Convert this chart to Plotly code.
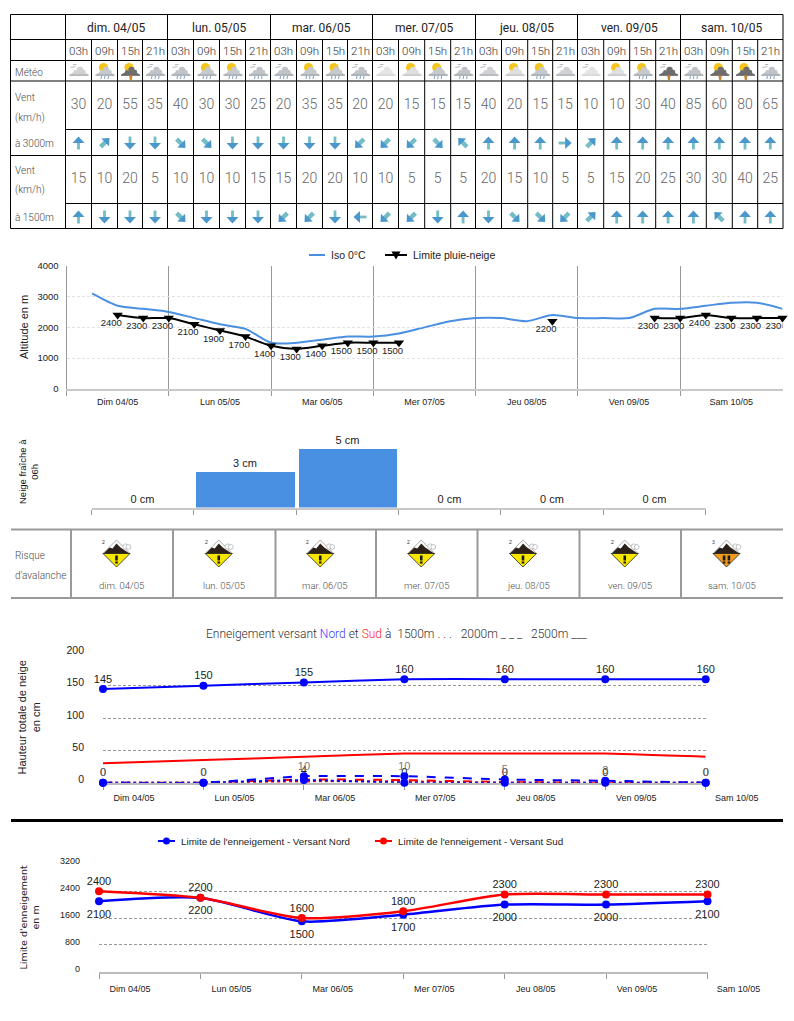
import math
import plotly.graph_objects as go

W, H = 794, 1021

# ---------- data ----------
days_table = ["dim. 04/05", "lun. 05/05", "mar. 06/05", "mer. 07/05", "jeu. 08/05", "ven. 09/05", "sam. 10/05"]
days_axis = ["Dim 04/05", "Lun 05/05", "Mar 06/05", "Mer 07/05", "Jeu 08/05", "Ven 09/05", "Sam 10/05"]
hours = ["03h", "09h", "15h", "21h"]
meteo = ["c", "sr", "st", "r", "r", "sr", "sr", "r", "r", "sr", "sr", "r", "l", "s", "sr", "r",
         "c", "s", "sr", "c", "l", "s", "sr", "dt", "r", "st", "st", "r"]
wind_3000 = [30, 20, 55, 35, 40, 30, 30, 25, 20, 35, 35, 20, 20, 15, 15, 15, 40, 20, 15, 15, 10, 10, 30, 40, 85, 60, 80, 65]
dir_3000 = [0, 45, 180, 180, 135, 135, 180, 180, 180, 180, 180, 225, 225, 225, 135, 315,
            0, 0, 0, 90, 45, 0, 0, 0, 0, 0, 0, 0]
wind_1500 = [15, 10, 20, 5, 10, 10, 10, 15, 15, 20, 20, 10, 10, 5, 5, 5, 20, 15, 10, 5, 5, 15, 20, 25, 30, 30, 40, 25]
dir_1500 = [0, 180, 180, 180, 135, 180, 180, 180, 225, 225, 180, 270, 225, 225, 180, 0,
            180, 135, 135, 225, 45, 0, 0, 0, 0, 315, 0, 0]

slots = list(range(1, 29))
iso_0 = [3100, 2700, 2600, 2500, 2300, 2100, 1950, 1500, 1500, 1600, 1700, 1700, 1800, 2000,
         2200, 2300, 2300, 2200, 2400, 2300, 2300, 2300, 2600, 2600, 2700, 2800, 2800, 2600]
rain_snow = [None, 2400, 2300, 2300, 2100, 1900, 1700, 1400, 1300, 1400, 1500, 1500, 1500, None,
             None, None, None, None, 2200, None, None, None, 2300, 2300, 2400, 2300, 2300, 2300]

fresh_snow = [0, 3, 5, 0, 0, 0]
risk_levels = [2, 2, 2, 2, 2, 2, 3]

north_2500 = [145, 150, 155, 160, 160, 160, 160]
south_2500 = [30, 35, 40, 45, 45, 45, 40]
north_2000 = [0, 0, 10, 10, 5, 3, 0]
south_2000 = [0, 0, 5, 4, 1, 0, 0]
north_1500 = [0, 0, 4, 0, 0, 0, 0]
south_1500 = [0, 0, 2, 2, 0, 0, 0]

limit_north = [2100, 2200, 1500, 1700, 2000, 2000, 2100]
limit_south = [2400, 2200, 1600, 1800, 2300, 2300, 2300]

# ---------- page geometry (pixels) ----------
col_x = [65.5, 91.5, 117.5, 142.5, 167.5, 193.5, 219.5, 245.5, 270.5, 296.5, 322.5, 347.5, 372.5,
         398.5, 424.7, 450.7, 475.5, 501.5, 527.7, 552.7, 577.5, 603.7, 629.7, 655.7, 680.5, 706.3, 732.3, 757.7, 783]
row_y = [14.5, 39.5, 60.5, 81, 129.5, 155.5, 203.5, 228.5]
TBL_L = 10.5
risk_x = [71, 173, 275.5, 376, 477.5, 579.5, 681, 783]

ARIAL = "Liberation Sans, Arial, sans-serif"
ROBOTO = "Roboto, sans-serif"


def dom_x(a, b):
    return [a / W, b / W]


def dom_y(top, bottom):
    return [1 - bottom / H, 1 - top / H]


shapes, annots = [], []


def line(x0, y0, x1, y1, color="#000", width=1):
    shapes.append(dict(type="line", xref="x5", yref="y5", x0=x0, y0=y0, x1=x1, y1=y1,
                       line=dict(color=color, width=width)))


def poly(points, fill, lc=None, lw=0):
    d = "M " + " L ".join(f"{x:.2f} {y:.2f}" for x, y in points) + " Z"
    shapes.append(dict(type="path", xref="x5", yref="y5", path=d, fillcolor=fill,
                       line=dict(color=lc or fill, width=lw)))


def circle(cx, cy, r, fill, lc=None, lw=0):
    shapes.append(dict(type="circle", xref="x5", yref="y5", x0=cx - r, x1=cx + r, y0=cy - r, y1=cy + r,
                       fillcolor=fill, line=dict(color=lc or fill, width=lw)))


def text(x, y, s, size=10, color="#4a4a4a", font=ROBOTO, anchor="left", angle=0, weight=None):
    f = dict(size=size, color=color, family=font)
    if weight:
        f["weight"] = weight
    annots.append(dict(xref="x5", yref="y5", x=x, y=y, text=s, showarrow=False, xanchor=anchor, yanchor="middle",
                       textangle=angle, align="center", font=f))


# ---------- table grid ----------
for y in row_y:
    left = 65.5 if y in (129.5, 203.5) else TBL_L
    line(left, y, 783, y)
line(TBL_L, 14.5, TBL_L, 228.5)
for i, x in enumerate(col_x):
    top = 14.5 if i % 4 == 0 else 39.5
    line(x, top, x, 228.5)

for d, name in enumerate(days_table):
    text((col_x[d * 4] + col_x[d * 4 + 4]) / 2, 27.5, name, size=12, color="#222", anchor="center")
for i in range(28):
    text((col_x[i] + col_x[i + 1]) / 2, 50.5, hours[i % 4], size=11.5, color="#333", anchor="center", weight=300)
for y, s in [(72, "Météo"), (97.7, "Vent"), (118, "(km/h)"), (143, "à 3000m"), (170, "Vent"), (190, "(km/h)"), (217, "à 1500m")]:
    text(13, y, s, size=10, weight=300)


# ---------- wind arrows ----------
def rot(cx, cy, pts, deg):
    a = math.radians(deg)
    return [(cx + px * math.cos(a) - py * math.sin(a), cy + px * math.sin(a) + py * math.cos(a)) for px, py in pts]


def arrow(cx, cy, deg):
    if deg % 90:
        head = [(0, -7), (5.5, -1), (-5.5, -1)]
        shaft = [(-2.2, -1.5), (2.2, -1.5), (2.2, 5.5), (-2.2, 5.5)]
    else:
        head = [(0, -6.5), (6, 0), (-6, 0)]
        shaft = [(-1.4, -0.5), (1.4, -0.5), (1.4, 6.5), (-1.4, 6.5)]
    poly(rot(cx, cy, shaft, deg), "#74bcc6")
    poly(rot(cx, cy, head, deg), "#4a97cc")


for i in range(28):
    cx = (col_x[i] + col_x[i + 1]) / 2
    arrow(cx, 143, dir_3000[i])
    arrow(cx, 217, dir_1500[i])


# ---------- weather icons ----------
def icon(cx, cy, kind):
    sun = kind in ("s", "sr", "st")
    ticks = kind in ("c", "l", "r", "dt")
    dark = kind in ("st", "dt")
    if sun:
        circle(cx - 1, cy - 3, 4.6, "#f6c51d")
    if ticks:
        line(cx - 8, cy - 3, cx - 3, cy - 4, "#a4a9ae", 0.8)
        line(cx - 5.5, cy - 6, cx - 2, cy - 6, "#a4a9ae", 0.8)
    body = {"l": "#e4e5e7", "s": "#dedfe1", "c": "#cfd1d4", "sr": "#c6c9cd", "r": "#c0c4c9"}.get(kind, "#6e6e6e")
    base = {"l": "#c8cacc", "s": "#b4b7ba", "c": "#9a9ea3", "sr": "#8f959b", "r": "#8f959b"}.get(kind, "#444444")
    circle(cx + 1.5, cy - 0.5, 3.2, body)
    circle(cx + 5, cy + 1.5, 2.2, body)
    circle(cx - 3, cy + 1.5, 2, body)
    poly([(cx - 9, cy + 4.2), (cx - 4, cy + 1), (cx + 5, cy + 1), (cx + 10, cy + 4.2)], body)
    line(cx - 9, cy + 4.6, cx + 10, cy + 4.6, base, 1.2)
    if kind in ("sr", "r"):
        for dx in (-3, 0.5, 4):
            line(cx + dx, cy + 5.5, cx + dx - 0.5, cy + 8.5, "#7d9fc0", 1)
    if dark:
        poly([(cx - 1, cy + 5), (cx + 2.5, cy + 5), (cx + 1.7, cy + 10), (cx, cy + 10)], "#c9822a")


for i, kind in enumerate(meteo):
    icon((col_x[i] + col_x[i + 1]) / 2, 70.5, kind)

# ---------- avalanche band ----------
line(11, 529.5, 783, 529.5, "#999", 2)
line(11, 598, 783, 598, "#999", 2)
for x in risk_x[:-1]:
    line(x, 529.5, x, 598, "#999", 2)
text(13, 555, "Risque", size=10, weight=300)
text(13, 575, "d'avalanche", size=10, weight=300)


def avalanche(cx, level):
    cy, r = 553.5, 13.5
    fill = "#f6e600" if level < 3 else "#f09a1e"
    poly([(cx - r, cy), (cx, cy - r), (cx + r, cy)], "#ffffff", "#888888", 0.7)
    circle(cx + 9, cy - 7, 2.6, "#ffffff", "#aaaaaa", 0.7)
    circle(cx + 12, cy - 6.5, 2.4, "#ffffff", "#aaaaaa", 0.7)
    poly([(cx - r, cy), (cx, cy + r), (cx + r, cy)], fill, "#222", 0.8)
    poly([(cx - r + 0.5, cy), (cx - 7, cy - 6), (cx - 4, cy - 5), (cx, cy - 10), (cx + 4, cy - 6), (cx + 7, cy - 4), (cx + r - 0.5, cy)], "#2b211a")
    offs = (-2.4, 2.4) if level >= 3 else (0,)
    for o in offs:
        poly([(cx + o - 1.3, cy + 2), (cx + o + 1.3, cy + 2), (cx + o + 1.3, cy + 7), (cx + o - 1.3, cy + 7)], "#1a1a1a")
        poly([(cx + o - 1.3, cy + 8), (cx + o + 1.3, cy + 8), (cx + o + 1.3, cy + 10), (cx + o - 1.3, cy + 10)], "#1a1a1a")
    text(cx - 12.7, 542, str(level), size=5, color="#333", font=ARIAL, anchor="center")


for d, name in enumerate(days_table):
    cx = (risk_x[d] + risk_x[d + 1]) / 2 - 5.5
    avalanche(cx, risk_levels[d])
    text((risk_x[d] + risk_x[d + 1]) / 2 - 0.5, 585, name, size=9.5, anchor="center", weight=300)

# black divider
line(11, 820.5, 783, 820.5, "#000", 3)

# ---------- axis titles and heading ----------
text(24, 327, "Altitude en m", size=11, color="#222", font=ARIAL, anchor="center", angle=-90)
text(28, 472, "Neige fraîche à<br>06h", size=9.5, color="#111", font=ARIAL, anchor="center", angle=-90)
text(28.5, 718, "Hauteur totale de neige<br>en cm", size=11, color="#222", font=ARIAL, anchor="center", angle=-90)
text(28.5, 918, "Limite d'enneigement<br>en m", size=9.5, color="#222", font="DejaVu Sans, sans-serif", anchor="center", angle=-90)
text(397, 634,
     'Enneigement versant <span style="color:#3a3aff">Nord</span> et '
     '<span style="color:#ff2a2a">Sud</span> à\u00a0\u00a01500m\u00a0.\u00a0.\u00a0.\u00a0\u00a0\u00a0'
     '2000m\u00a0_\u00a0_\u00a0_\u00a0\u00a0\u00a02500m\u00a0___',
     size=12, color="#333", anchor="center", weight=300)

# ---------- legend keys ----------
line(309, 255, 325, 255, "#4a90e2", 2)
text(328.5, 255, "Iso 0°C", size=10.5, color="#222", font=ARIAL)
line(385, 255, 407, 255, "#000", 2)
poly([(391.5, 251.5), (400.5, 251.5), (396, 259.5)], "#000")
text(411, 255, "Limite pluie-neige", size=10.5, color="#222", font=ARIAL)
for x0, col, label in ((158, "#0000ff", "Limite de l'enneigement - Versant Nord"),
                       (375, "#ff0000", "Limite de l'enneigement - Versant Sud")):
    line(x0, 841, x0 + 17, 841, col, 2)
    circle(x0 + 8.5, 841, 3.5, col)
    text(x0 + 21, 841, label, size=9.8, color="#222", font=ARIAL)

# ---------- figure ----------
fig = go.Figure()

# wind numbers, on the page-wide overlay axes
centres = [(col_x[i] + col_x[i + 1]) / 2 for i in range(28)]
for vals, y in ((wind_3000, 105), (wind_1500, 179.3)):
    fig.add_trace(go.Scatter(x=centres, y=[y] * 28, mode="text", text=[str(v) for v in vals],
                             textposition="middle center",
                             textfont=dict(size=14, color="#666666", family=ROBOTO, weight=300),
                             xaxis="x5", yaxis="y5", showlegend=False, hoverinfo="skip"))

# chart 1: altitudes
fig.add_trace(go.Scatter(x=slots, y=iso_0, name="Iso 0°C", mode="lines",
                         line=dict(color="#4a90e2", width=2, shape="spline", smoothing=0.7),
                         xaxis="x", yaxis="y", showlegend=False))
fig.add_trace(go.Scatter(x=slots, y=rain_snow, name="Limite pluie-neige", mode="lines+markers",
                         line=dict(color="#000", width=2, shape="spline", smoothing=0.7),
                         marker=dict(symbol="triangle-down", size=9, color="#000"),
                         cliponaxis=False, xaxis="x", yaxis="y", showlegend=False))
fig.add_trace(go.Scatter(x=[s - 0.25 for s, v in zip(slots, rain_snow) if v is not None],
                         y=[v - 130 for v in rain_snow if v is not None],
                         text=[str(v) for v in rain_snow if v is not None],
                         mode="text", textposition="bottom center",
                         textfont=dict(size=9.5, color="#222", family=ARIAL),
                         xaxis="x", yaxis="y", showlegend=False, hoverinfo="skip"))

# chart 2: fresh snow
fig.add_trace(go.Bar(x=[i + 0.5 for i in range(6)], y=fresh_snow, width=0.96, marker=dict(color="#4a90e2", line=dict(width=0)),
                     text=[f"{v} cm" for v in fresh_snow], textposition="outside", cliponaxis=False,
                     textfont=dict(size=11, color="#222", family=ARIAL), xaxis="x2", yaxis="y2", showlegend=False))

# chart 3: snow depth
pos7 = list(range(7))
DEPTH_LIFT = 5.5   # cm: raises a depth label to the reference's gap above its point
for vals, col, dash, lbl_col, markers in (
    (south_1500, "#ff0000", "dot", None, False),
    (south_2000, "#ff0000", "dash", None, False),
    (south_2500, "#ff0000", "solid", None, False),
    (north_1500, "#0000ff", "dot", "#222", True),
    (north_2000, "#0000ff", "dash", "#777", True),
    (north_2500, "#0000ff", "solid", "#222", True),
):
    fig.add_trace(go.Scatter(x=pos7, y=vals, mode="lines+markers" if markers else "lines",
                             line=dict(color=col, width=2, dash=dash, shape="spline", smoothing=0.5),
                             marker=dict(size=8, color=col), cliponaxis=False,
                             xaxis="x3", yaxis="y3", showlegend=False))
    if lbl_col:
        fig.add_trace(go.Scatter(x=pos7, y=[v + DEPTH_LIFT for v in vals], mode="text",
                                 text=[str(v) for v in vals], textposition="top center",
                                 textfont=dict(size=11, color=lbl_col, family=ARIAL), cliponaxis=False,
                                 xaxis="x3", yaxis="y3", showlegend=False, hoverinfo="skip"))

# chart 4: snow limit
LIMIT_LIFT = 110   # metres: same idea for the upper labels
for vals, name, col, pos, lift in ((limit_north, "Limite de l'enneigement - Versant Nord", "#0000ff", "bottom center", None),
                                   (limit_south, "Limite de l'enneigement - Versant Sud", "#ff0000", "top center", LIMIT_LIFT)):
    fig.add_trace(go.Scatter(x=pos7, y=vals, name=name, mode="lines+markers",
                             line=dict(color=col, width=2.5, shape="spline", smoothing=0.7),
                             marker=dict(size=8, color=col), cliponaxis=False,
                             xaxis="x4", yaxis="y4", showlegend=False))
    fig.add_trace(go.Scatter(x=pos7, y=[v + (lift if lift else -250) for v in vals], mode="text",
                             text=[str(v) for v in vals], textposition=pos,
                             textfont=dict(size=11, color="#222", family=ARIAL), cliponaxis=False,
                             xaxis="x4", yaxis="y4", showlegend=False, hoverinfo="skip"))

tick9 = dict(size=9, color="#222", family=ARIAL)
grid_light = dict(showgrid=True, gridcolor="#e2e2e2", griddash="3px,2px", gridwidth=1)
grid_dark = dict(showgrid=True, gridcolor="#999999", griddash="3px,2px", gridwidth=1)

fig.update_layout(
    width=W, height=H, autosize=False, margin=dict(l=0, r=0, t=0, b=0),
    paper_bgcolor="#fff", plot_bgcolor="rgba(0,0,0,0)", font=dict(family=ARIAL),
    shapes=shapes, annotations=annots, showlegend=False,
    bargap=0,
    # overlay in page pixels
    xaxis5=dict(domain=[0, 1], range=[0, W], visible=False, fixedrange=True, automargin=False),
    yaxis5=dict(domain=[0, 1], range=[H, 0], visible=False, fixedrange=True, anchor="x5", automargin=False),
    # chart 1
    xaxis=dict(domain=dom_x(66.5, 782.5), range=[0, 28], anchor="y", fixedrange=True, automargin=False,
               tickmode="array", tickvals=[2 + 4 * d for d in range(7)], ticktext=days_axis, ticklen=0, ticklabelstandoff=3,
               tickfont=tick9, showgrid=False, zeroline=False, showline=True, linecolor="#c8c8c8", linewidth=2,
               minor=dict(tickmode="array", tickvals=[4 * d for d in range(7)], ticklen=5, tickcolor="#999", ticks="outside",
                          showgrid=True, gridcolor="#999999", gridwidth=1)),
    yaxis=dict(domain=dom_y(265.7, 389), range=[0, 4000], tickvals=[0, 1000, 2000, 3000, 4000], anchor="x", fixedrange=True, automargin=False,
               tickfont=dict(size=9.5, color="#222", family=ARIAL), ticks="", zeroline=False, ticklabelstandoff=5,
               showline=True, linecolor="#999", linewidth=1, **grid_light),
    # chart 2
    xaxis2=dict(domain=dom_x(91.5, 705.5), range=[0, 6], anchor="y2", fixedrange=True, automargin=False,
                tickvals=list(range(7)), showticklabels=False, ticks="outside", ticklen=5, tickcolor="#999",
                showgrid=False, zeroline=False, showline=True, linecolor="#c8c8c8", linewidth=2),
    yaxis2=dict(domain=dom_y(430, 507.5), range=[0, 77.5 / 11.7], visible=False, anchor="x2", fixedrange=True, automargin=False),
    # chart 3
    xaxis3=dict(domain=dom_x(103, 705.7), range=[0, 6], anchor="y3", fixedrange=True, automargin=False,
                tickmode="array", tickvals=pos7, ticktext=days_axis, ticklabelshift=31, tickfont=tick9, layer="below traces",
                ticks="outside", ticklen=5, tickcolor="#999", showgrid=False, zeroline=False,
                showline=True, linecolor="#bbbbbb", linewidth=2),
    yaxis3=dict(domain=dom_y(653.3, 782.7), range=[0, 200], tickvals=[0, 50, 100, 150, 200], anchor="x3", fixedrange=True, automargin=False,
                tickfont=dict(size=10.5, color="#222", family=ARIAL), ticks="", ticklabelshift=-3, ticklabelstandoff=18,
                zeroline=False, showline=False, **grid_dark),
    # chart 4
    xaxis4=dict(domain=dom_x(99, 707.5), range=[0, 6], anchor="y4", fixedrange=True, automargin=False,
                tickmode="array", tickvals=pos7, ticktext=days_axis, ticklabelshift=31, tickfont=tick9, layer="below traces",
                ticks="outside", ticklen=5, tickcolor="#999", showgrid=False, zeroline=False, ticklabelstandoff=2,
                showline=True, linecolor="#bbbbbb", linewidth=2),
    yaxis4=dict(domain=dom_y(864.3, 971.7), range=[0, 3200], tickvals=[0, 800, 1600, 2400, 3200], anchor="x4", fixedrange=True, automargin=False,
                tickfont=dict(size=9, color="#222", family=ARIAL), ticks="", ticklabelshift=-3, ticklabelstandoff=18,
                zeroline=False, showline=False, **grid_dark),
)

fig.write_html("out.html", config={"displayModeBar": False},
               post_script="document.body.style.margin='0';")
